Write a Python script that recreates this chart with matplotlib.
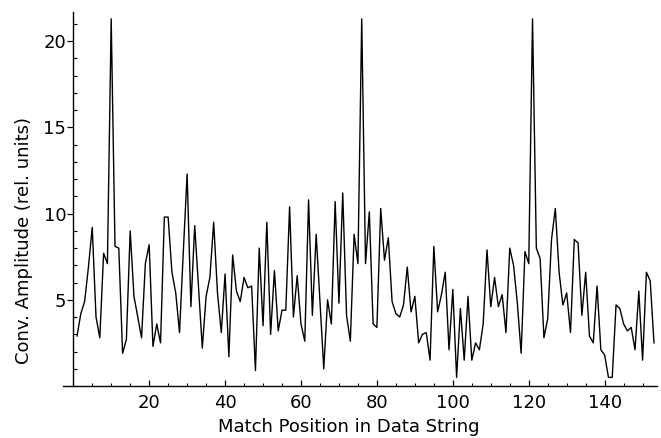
import matplotlib
matplotlib.use("Agg")
import matplotlib.pyplot as plt
import numpy as np
from matplotlib.ticker import MultipleLocator

# convolution amplitude, positions 1..153
amplitude = [
    2.9, 4.2, 4.9, 6.9, 9.2, 4.0, 2.8, 7.7, 7.1, 21.3,
    8.1, 8.0, 1.9, 2.7, 9.0, 5.2, 4.0, 2.8, 7.1, 8.2,
    2.3, 3.6, 2.5, 9.8, 9.8, 6.6, 5.4, 3.1, 7.8, 12.3,
    4.6, 9.3, 5.8, 2.2, 5.2, 6.3, 9.5, 5.4, 3.1, 6.5,
    1.7, 7.6, 5.5, 4.9, 6.3, 5.7, 5.8, 0.9, 8.0, 3.5,
    9.5, 3.0, 6.7, 3.2, 4.4, 4.4, 10.4, 4.0, 6.4, 3.6,
    2.6, 10.8, 4.1, 8.8, 4.9, 1.0, 5.0, 3.6, 10.7, 4.8,
    11.2, 4.1, 2.6, 8.8, 7.1, 21.3, 7.1, 10.1, 3.6, 3.4,
    10.3, 7.3, 8.6, 4.9, 4.2, 4.0, 4.7, 6.9, 4.3, 5.2,
    2.5, 3.0, 3.1, 1.5, 8.1, 4.3, 5.3, 6.6, 2.1, 5.6,
    0.5, 4.5, 1.5, 5.2, 1.5, 2.5, 2.1, 3.6, 7.9, 4.6,
    6.3, 4.6, 5.3, 3.1, 8.0, 7.0, 4.8, 1.9, 7.8, 7.1,
    21.3, 8.0, 7.4, 2.8, 3.9, 8.5, 10.3, 6.6, 4.7, 5.4,
    3.1, 8.5, 8.3, 4.1, 6.6, 2.9, 2.5, 5.8, 2.1, 1.8,
    0.5, 0.5, 4.7, 4.5, 3.6, 3.2, 3.4, 2.1, 5.5, 1.5,
    6.6, 6.1, 2.5,
]
position = np.arange(1, len(amplitude) + 1)

x_ticks = [20, 40, 60, 80, 100, 120, 140]
y_ticks = [5, 10, 15, 20]

plt.rcParams['font.family'] = ['DejaVu Sans']
fs = 13

fig = plt.figure(figsize=(6.61, 4.38), dpi=100)
ax = fig.add_axes([0.0953, 0.1187, 0.8987, 0.854])

ax.plot(position, amplitude, color='black', linewidth=1.0)

ax.set_xlim(-2.7, 153.8)
ax.set_ylim(0, 21.7)

ax.spines['top'].set_visible(False)
ax.spines['right'].set_visible(False)
ax.spines['left'].set_position(('data', 0))
ax.spines['left'].set_bounds(0, 21.7)
for s in ('left', 'bottom'):
    ax.spines[s].set_linewidth(1.0)

ax.set_xticks(x_ticks)
ax.set_yticks(y_ticks)
ax.xaxis.set_minor_locator(MultipleLocator(5))
ax.yaxis.set_minor_locator(MultipleLocator(1))
ax.tick_params(axis='x', which='major', direction='in', length=4, width=0.9,
               labelsize=fs, pad=5.5)
ax.tick_params(axis='x', which='minor', direction='in', length=2.5, width=0.8)
ax.tick_params(axis='y', which='major', direction='out', length=4, width=0.9,
               labelsize=fs, pad=1)
ax.tick_params(axis='y', which='minor', direction='in', length=3, width=0.8)

ax.set_xlabel('Match Position in Data String', fontsize=fs)
ax.set_ylabel('Conv. Amplitude (rel. units)', fontsize=fs)
ax.xaxis.set_label_coords(0.4815, -0.0856)
ax.yaxis.set_label_coords(-0.0505, 0.388)

fig.savefig('out.png', dpi=100)
